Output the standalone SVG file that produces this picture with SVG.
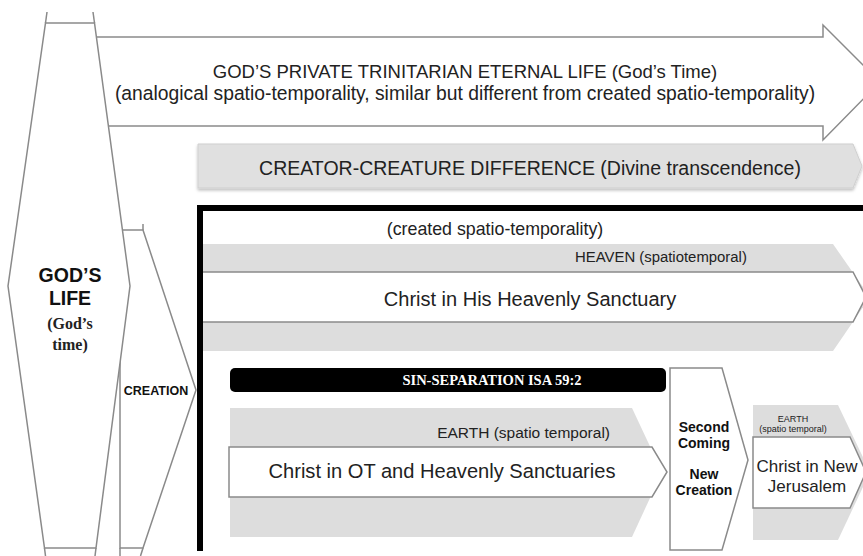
<svg xmlns="http://www.w3.org/2000/svg" width="863" height="556" viewBox="0 0 863 556">
<defs>
<style>
.ol{fill:#fff;stroke:#8a8a8a;stroke-width:1.5;stroke-linejoin:miter}
.ln{fill:none;stroke:#8a8a8a;stroke-width:1.5}
.band{fill:#dddddd;stroke:none}
.s{font-family:"Liberation Sans",Arial,sans-serif;fill:#222}
.b{font-family:"Liberation Sans",Arial,sans-serif;font-weight:bold;fill:#111}
.sr{font-family:"Liberation Serif","Times New Roman",serif;font-weight:bold}
</style>
<filter id="sh" x="-5%" y="-20%" width="110%" height="150%">
<feDropShadow dx="0" dy="2" stdDeviation="1.5" flood-color="#000" flood-opacity="0.25"/>
</filter>
</defs>
<rect width="863" height="556" fill="#fff"/>

<g id="eternal-life">
<polygon class="ol" points="60,37 823,37 823,25 880,82 823,140 823,126 60,126"/>
<text class="s" x="465" y="78" font-size="18.5" text-anchor="middle">GOD’S PRIVATE TRINITARIAN ETERNAL LIFE (God’s Time)</text>
<text class="s" x="465" y="100" font-size="19.3" text-anchor="middle">(analogical spatio-temporality, similar but different from created spatio-temporality)</text>
</g>

<g id="creator-creature">
<polygon points="198,144 853,144 862,166 853,188 198,188" fill="#e0e0e0" stroke="#cfcfcf" stroke-width="1" filter="url(#sh)"/>
<text class="s" x="530" y="175" font-size="19.5" text-anchor="middle">CREATOR-CREATURE DIFFERENCE (Divine transcendence)</text>
</g>

<g id="creation">
<polygon class="ol" points="120,230 143,230 196,390 143,548 120,548"/>
<line class="ln" x1="143" y1="224" x2="143" y2="230"/>
<line class="ln" x1="143" y1="548" x2="140.5" y2="556"/>
<line class="ln" x1="120" y1="548" x2="120" y2="556"/>
<text class="b" x="156" y="395" font-size="12.5" text-anchor="middle">CREATION</text>
</g>

<g id="gods-life">
<polygon class="ol" points="45.5,23 94.5,23 130,286 96,548 44.5,548 8,286"/>
<line class="ln" x1="47" y1="12" x2="45.5" y2="23"/>
<line class="ln" x1="93" y1="12" x2="94.5" y2="23"/>
<line class="ln" x1="44.5" y1="548" x2="45.5" y2="556"/>
<line class="ln" x1="96" y1="548" x2="95" y2="556"/>
<text class="b" x="70" y="282" font-size="19.5" text-anchor="middle">GOD’S</text>
<text class="b" x="70" y="305" font-size="19.5" text-anchor="middle">LIFE</text>
<text class="sr" x="70" y="329" font-size="16" text-anchor="middle" fill="#222">(God’s</text>
<text class="sr" x="70" y="350" font-size="16" text-anchor="middle" fill="#222">time)</text>
</g>

<g id="heaven">
<polygon class="band" points="203,244 833,244 870,297 833,351 203,351"/>
<polygon class="ol" points="200,272 853,272 866,297 853,322 200,322"/>
<text class="s" x="575" y="262" font-size="14.9">HEAVEN (spatiotemporal)</text>
<text class="s" x="530" y="306" font-size="20" text-anchor="middle">Christ in His Heavenly Sanctuary</text>
</g>

<g id="created-frame">
<path d="M200,551 V208 H866" fill="none" stroke="#000" stroke-width="6"/>
<text class="s" x="495" y="235" font-size="17.8" text-anchor="middle">(created spatio-temporality)</text>
</g>

<g id="sin-separation">
<rect x="230" y="368" width="436" height="24" rx="5" fill="#000"/>
<text class="sr" x="492" y="385" font-size="14.5" text-anchor="middle" fill="#fff">SIN-SEPARATION ISA  59:2</text>
</g>

<g id="earth">
<polygon class="band" points="230,408 632,408 662,472 632,537 230,537"/>
<polygon class="ol" points="229,447 652,447 667,472 652,497 229,497"/>
<text class="s" x="610" y="438" font-size="15.5" text-anchor="end">EARTH (spatio temporal)</text>
<text class="s" x="442" y="478" font-size="20.1" text-anchor="middle">Christ in OT and Heavenly Sanctuaries</text>
</g>

<g id="second-coming">
<polygon class="ol" points="670,368 722,368 748,460 722,550 670,550"/>
<text class="b" x="704" y="432" font-size="14" text-anchor="middle">Second</text>
<text class="b" x="704" y="448" font-size="14" text-anchor="middle">Coming</text>
<text class="b" x="704" y="479" font-size="14" text-anchor="middle">New</text>
<text class="b" x="704" y="495" font-size="14" text-anchor="middle">Creation</text>
</g>

<g id="new-jerusalem">
<polygon class="band" points="753,405 838,405 870,472 838,540 753,540"/>
<polygon class="ol" points="753,437 850,437 866,472 850,508 753,508"/>
<text class="s" x="793" y="422" font-size="9" text-anchor="middle">EARTH</text>
<text class="s" x="793" y="432" font-size="9" text-anchor="middle">(spatio temporal)</text>
<text class="s" x="807" y="472" font-size="17" text-anchor="middle">Christ in New</text>
<text class="s" x="807" y="492" font-size="17" text-anchor="middle">Jerusalem</text>
</g>

<g id="connectors"></g>
</svg>
